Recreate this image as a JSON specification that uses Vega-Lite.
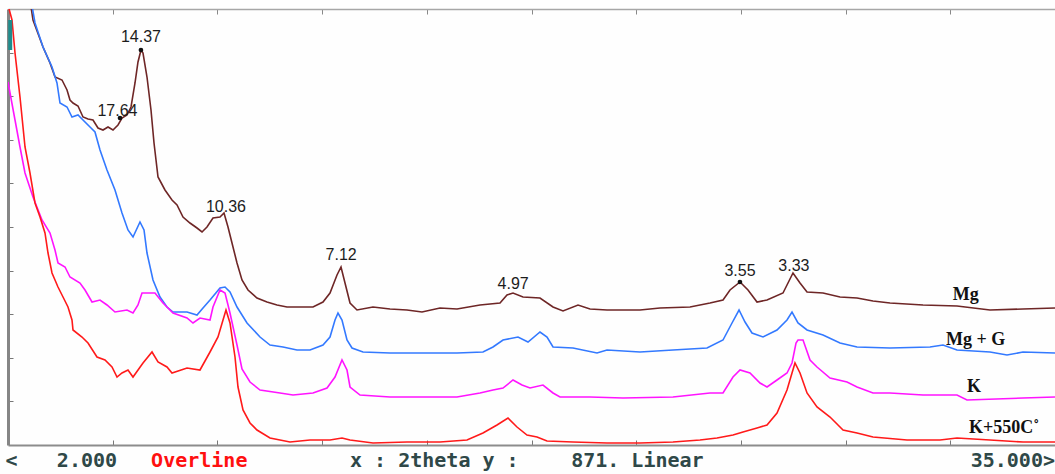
{
  "$schema": "https://vega.github.io/schema/vega-lite/v6.json",
  "width": 1047,
  "height": 436,
  "autosize": {"type": "none"},
  "padding": {"left": 8, "top": 9, "right": 0, "bottom": 29},
  "background": "#fefefe",
  "config": {"view": {"stroke": null}},
  "datasets": {
    "curves": [
      {"s":"Mg","x":2.693,"y":890},{"s":"Mg","x":2.788,"y":850},{"s":"Mg","x":3.103,"y":796},{"s":"Mg","x":3.324,"y":764},{"s":"Mg","x":3.481,"y":736},{"s":"Mg","x":3.702,"y":730},{"s":"Mg","x":3.860,"y":710},{"s":"Mg","x":3.954,"y":690},{"s":"Mg","x":4.049,"y":684},{"s":"Mg","x":4.206,"y":678},{"s":"Mg","x":4.364,"y":656},{"s":"Mg","x":4.522,"y":652},{"s":"Mg","x":4.679,"y":650},{"s":"Mg","x":4.837,"y":634},{"s":"Mg","x":4.994,"y":630},{"s":"Mg","x":5.152,"y":636},{"s":"Mg","x":5.309,"y":630},{"s":"Mg","x":5.467,"y":640},{"s":"Mg","x":5.593,"y":654},{"s":"Mg","x":5.751,"y":660},{"s":"Mg","x":5.877,"y":676},{"s":"Mg","x":6.003,"y":724},{"s":"Mg","x":6.097,"y":766},{"s":"Mg","x":6.192,"y":790},{"s":"Mg","x":6.255,"y":784},{"s":"Mg","x":6.381,"y":736},{"s":"Mg","x":6.507,"y":670},{"s":"Mg","x":6.602,"y":604},{"s":"Mg","x":6.728,"y":536},{"s":"Mg","x":6.948,"y":510},{"s":"Mg","x":7.169,"y":490},{"s":"Mg","x":7.327,"y":480},{"s":"Mg","x":7.516,"y":456},{"s":"Mg","x":7.736,"y":444},{"s":"Mg","x":7.957,"y":434},{"s":"Mg","x":8.115,"y":426},{"s":"Mg","x":8.272,"y":436},{"s":"Mg","x":8.461,"y":454},{"s":"Mg","x":8.682,"y":456},{"s":"Mg","x":8.808,"y":464},{"s":"Mg","x":8.934,"y":436},{"s":"Mg","x":9.060,"y":404},{"s":"Mg","x":9.218,"y":364},{"s":"Mg","x":9.375,"y":330},{"s":"Mg","x":9.565,"y":310},{"s":"Mg","x":9.848,"y":294},{"s":"Mg","x":10.163,"y":286},{"s":"Mg","x":10.479,"y":280},{"s":"Mg","x":10.794,"y":276},{"s":"Mg","x":11.109,"y":276},{"s":"Mg","x":11.613,"y":276},{"s":"Mg","x":11.928,"y":286},{"s":"Mg","x":12.149,"y":304},{"s":"Mg","x":12.370,"y":340},{"s":"Mg","x":12.496,"y":356},{"s":"Mg","x":12.622,"y":324},{"s":"Mg","x":12.780,"y":284},{"s":"Mg","x":13.000,"y":270},{"s":"Mg","x":13.504,"y":276},{"s":"Mg","x":14.040,"y":272},{"s":"Mg","x":14.576,"y":270},{"s":"Mg","x":15.049,"y":266},{"s":"Mg","x":15.616,"y":274},{"s":"Mg","x":16.152,"y":272},{"s":"Mg","x":16.877,"y":280},{"s":"Mg","x":17.507,"y":284},{"s":"Mg","x":17.728,"y":300},{"s":"Mg","x":17.917,"y":304},{"s":"Mg","x":18.232,"y":296},{"s":"Mg","x":18.768,"y":294},{"s":"Mg","x":19.178,"y":276},{"s":"Mg","x":19.493,"y":268},{"s":"Mg","x":19.966,"y":280},{"s":"Mg","x":20.344,"y":272},{"s":"Mg","x":20.880,"y":270},{"s":"Mg","x":21.920,"y":270},{"s":"Mg","x":22.550,"y":274},{"s":"Mg","x":23.496,"y":276},{"s":"Mg","x":24.126,"y":284},{"s":"Mg","x":24.536,"y":290},{"s":"Mg","x":24.757,"y":310},{"s":"Mg","x":25.072,"y":326},{"s":"Mg","x":25.324,"y":310},{"s":"Mg","x":25.608,"y":286},{"s":"Mg","x":25.923,"y":290},{"s":"Mg","x":26.427,"y":304},{"s":"Mg","x":26.742,"y":344},{"s":"Mg","x":26.963,"y":324},{"s":"Mg","x":27.184,"y":306},{"s":"Mg","x":27.688,"y":304},{"s":"Mg","x":28.224,"y":296},{"s":"Mg","x":28.760,"y":294},{"s":"Mg","x":29.264,"y":288},{"s":"Mg","x":29.800,"y":284},{"s":"Mg","x":30.840,"y":280},{"s":"Mg","x":31.911,"y":278},{"s":"Mg","x":32.951,"y":270},{"s":"Mg","x":33.992,"y":272},{"s":"Mg","x":35.000,"y":274},
      {"s":"Mg + G","x":2.725,"y":890},{"s":"Mg + G","x":2.851,"y":844},{"s":"Mg + G","x":3.103,"y":796},{"s":"Mg + G","x":3.387,"y":756},{"s":"Mg + G","x":3.544,"y":724},{"s":"Mg + G","x":3.639,"y":684},{"s":"Mg + G","x":3.860,"y":676},{"s":"Mg + G","x":4.017,"y":656},{"s":"Mg + G","x":4.206,"y":660},{"s":"Mg + G","x":4.364,"y":650},{"s":"Mg + G","x":4.585,"y":636},{"s":"Mg + G","x":4.742,"y":626},{"s":"Mg + G","x":4.900,"y":590},{"s":"Mg + G","x":5.120,"y":550},{"s":"Mg + G","x":5.372,"y":510},{"s":"Mg + G","x":5.593,"y":464},{"s":"Mg + G","x":5.782,"y":430},{"s":"Mg + G","x":5.940,"y":416},{"s":"Mg + G","x":6.160,"y":446},{"s":"Mg + G","x":6.287,"y":430},{"s":"Mg + G","x":6.381,"y":384},{"s":"Mg + G","x":6.570,"y":330},{"s":"Mg + G","x":6.791,"y":296},{"s":"Mg + G","x":7.011,"y":276},{"s":"Mg + G","x":7.201,"y":266},{"s":"Mg + G","x":7.642,"y":266},{"s":"Mg + G","x":7.957,"y":260},{"s":"Mg + G","x":8.146,"y":274},{"s":"Mg + G","x":8.367,"y":290},{"s":"Mg + G","x":8.682,"y":314},{"s":"Mg + G","x":8.840,"y":316},{"s":"Mg + G","x":8.997,"y":306},{"s":"Mg + G","x":9.218,"y":276},{"s":"Mg + G","x":9.533,"y":244},{"s":"Mg + G","x":9.943,"y":216},{"s":"Mg + G","x":10.258,"y":200},{"s":"Mg + G","x":10.668,"y":196},{"s":"Mg + G","x":11.109,"y":190},{"s":"Mg + G","x":11.519,"y":190},{"s":"Mg + G","x":11.928,"y":200},{"s":"Mg + G","x":12.149,"y":216},{"s":"Mg + G","x":12.307,"y":250},{"s":"Mg + G","x":12.401,"y":264},{"s":"Mg + G","x":12.527,"y":250},{"s":"Mg + G","x":12.685,"y":210},{"s":"Mg + G","x":12.843,"y":194},{"s":"Mg + G","x":13.189,"y":186},{"s":"Mg + G","x":14.040,"y":184},{"s":"Mg + G","x":15.080,"y":184},{"s":"Mg + G","x":16.152,"y":184},{"s":"Mg + G","x":16.971,"y":186},{"s":"Mg + G","x":17.287,"y":196},{"s":"Mg + G","x":17.602,"y":210},{"s":"Mg + G","x":18.075,"y":216},{"s":"Mg + G","x":18.390,"y":206},{"s":"Mg + G","x":18.768,"y":226},{"s":"Mg + G","x":18.989,"y":216},{"s":"Mg + G","x":19.178,"y":196},{"s":"Mg + G","x":19.808,"y":194},{"s":"Mg + G","x":20.565,"y":184},{"s":"Mg + G","x":20.880,"y":190},{"s":"Mg + G","x":21.920,"y":186},{"s":"Mg + G","x":22.960,"y":190},{"s":"Mg + G","x":24.032,"y":194},{"s":"Mg + G","x":24.536,"y":210},{"s":"Mg + G","x":24.820,"y":244},{"s":"Mg + G","x":25.041,"y":270},{"s":"Mg + G","x":25.230,"y":246},{"s":"Mg + G","x":25.450,"y":224},{"s":"Mg + G","x":25.797,"y":216},{"s":"Mg + G","x":26.238,"y":230},{"s":"Mg + G","x":26.553,"y":250},{"s":"Mg + G","x":26.711,"y":266},{"s":"Mg + G","x":26.900,"y":244},{"s":"Mg + G","x":27.184,"y":230},{"s":"Mg + G","x":27.688,"y":220},{"s":"Mg + G","x":28.224,"y":204},{"s":"Mg + G","x":28.760,"y":196},{"s":"Mg + G","x":29.800,"y":194},{"s":"Mg + G","x":31.060,"y":196},{"s":"Mg + G","x":31.470,"y":200},{"s":"Mg + G","x":31.911,"y":190},{"s":"Mg + G","x":32.951,"y":186},{"s":"Mg + G","x":33.487,"y":180},{"s":"Mg + G","x":33.992,"y":186},{"s":"Mg + G","x":35.000,"y":184},
      {"s":"K","x":2.000,"y":726},{"s":"K","x":2.221,"y":650},{"s":"K","x":2.378,"y":596},{"s":"K","x":2.536,"y":544},{"s":"K","x":2.788,"y":496},{"s":"K","x":3.072,"y":450},{"s":"K","x":3.324,"y":424},{"s":"K","x":3.481,"y":390},{"s":"K","x":3.576,"y":364},{"s":"K","x":3.797,"y":356},{"s":"K","x":3.954,"y":336},{"s":"K","x":4.269,"y":324},{"s":"K","x":4.427,"y":310},{"s":"K","x":4.648,"y":286},{"s":"K","x":4.900,"y":290},{"s":"K","x":5.120,"y":280},{"s":"K","x":5.372,"y":266},{"s":"K","x":5.751,"y":270},{"s":"K","x":5.940,"y":264},{"s":"K","x":6.097,"y":280},{"s":"K","x":6.224,"y":304},{"s":"K","x":6.633,"y":304},{"s":"K","x":6.885,"y":284},{"s":"K","x":7.201,"y":264},{"s":"K","x":7.642,"y":254},{"s":"K","x":7.831,"y":244},{"s":"K","x":8.051,"y":254},{"s":"K","x":8.367,"y":250},{"s":"K","x":8.461,"y":276},{"s":"K","x":8.682,"y":310},{"s":"K","x":8.840,"y":304},{"s":"K","x":8.997,"y":264},{"s":"K","x":9.218,"y":200},{"s":"K","x":9.375,"y":152},{"s":"K","x":9.628,"y":126},{"s":"K","x":9.943,"y":110},{"s":"K","x":10.573,"y":104},{"s":"K","x":10.983,"y":100},{"s":"K","x":11.613,"y":104},{"s":"K","x":12.055,"y":114},{"s":"K","x":12.307,"y":136},{"s":"K","x":12.527,"y":170},{"s":"K","x":12.685,"y":150},{"s":"K","x":12.780,"y":116},{"s":"K","x":13.095,"y":100},{"s":"K","x":14.040,"y":96},{"s":"K","x":15.080,"y":96},{"s":"K","x":16.152,"y":96},{"s":"K","x":16.877,"y":104},{"s":"K","x":17.287,"y":110},{"s":"K","x":17.602,"y":114},{"s":"K","x":17.917,"y":130},{"s":"K","x":18.201,"y":120},{"s":"K","x":18.453,"y":114},{"s":"K","x":18.862,"y":120},{"s":"K","x":19.178,"y":104},{"s":"K","x":19.398,"y":96},{"s":"K","x":20.344,"y":96},{"s":"K","x":21.384,"y":94},{"s":"K","x":22.960,"y":96},{"s":"K","x":24.126,"y":104},{"s":"K","x":24.536,"y":104},{"s":"K","x":24.851,"y":136},{"s":"K","x":25.072,"y":150},{"s":"K","x":25.387,"y":144},{"s":"K","x":25.702,"y":124},{"s":"K","x":25.923,"y":116},{"s":"K","x":26.238,"y":130},{"s":"K","x":26.553,"y":144},{"s":"K","x":26.711,"y":164},{"s":"K","x":26.837,"y":204},{"s":"K","x":26.900,"y":210},{"s":"K","x":27.058,"y":210},{"s":"K","x":27.279,"y":170},{"s":"K","x":27.499,"y":156},{"s":"K","x":27.909,"y":134},{"s":"K","x":28.445,"y":126},{"s":"K","x":28.760,"y":116},{"s":"K","x":29.264,"y":104},{"s":"K","x":29.800,"y":104},{"s":"K","x":30.840,"y":100},{"s":"K","x":31.911,"y":100},{"s":"K","x":32.226,"y":90},{"s":"K","x":33.992,"y":94},{"s":"K","x":35.000,"y":96},
      {"s":"K+550C","x":2.000,"y":880},{"s":"K+550C","x":2.126,"y":850},{"s":"K+550C","x":2.221,"y":784},{"s":"K+550C","x":2.378,"y":696},{"s":"K+550C","x":2.536,"y":596},{"s":"K+550C","x":2.693,"y":544},{"s":"K+550C","x":2.851,"y":484},{"s":"K+550C","x":3.009,"y":456},{"s":"K+550C","x":3.166,"y":424},{"s":"K+550C","x":3.261,"y":384},{"s":"K+550C","x":3.387,"y":344},{"s":"K+550C","x":3.576,"y":316},{"s":"K+550C","x":3.734,"y":296},{"s":"K+550C","x":3.891,"y":276},{"s":"K+550C","x":4.017,"y":250},{"s":"K+550C","x":4.049,"y":230},{"s":"K+550C","x":4.332,"y":216},{"s":"K+550C","x":4.522,"y":204},{"s":"K+550C","x":4.805,"y":176},{"s":"K+550C","x":5.057,"y":170},{"s":"K+550C","x":5.278,"y":156},{"s":"K+550C","x":5.436,"y":136},{"s":"K+550C","x":5.593,"y":144},{"s":"K+550C","x":5.782,"y":150},{"s":"K+550C","x":5.940,"y":136},{"s":"K+550C","x":6.255,"y":164},{"s":"K+550C","x":6.539,"y":186},{"s":"K+550C","x":6.728,"y":166},{"s":"K+550C","x":7.011,"y":156},{"s":"K+550C","x":7.169,"y":144},{"s":"K+550C","x":7.642,"y":154},{"s":"K+550C","x":8.051,"y":150},{"s":"K+550C","x":8.367,"y":186},{"s":"K+550C","x":8.619,"y":216},{"s":"K+550C","x":8.777,"y":250},{"s":"K+550C","x":8.871,"y":270},{"s":"K+550C","x":8.997,"y":244},{"s":"K+550C","x":9.155,"y":176},{"s":"K+550C","x":9.249,"y":116},{"s":"K+550C","x":9.407,"y":70},{"s":"K+550C","x":9.628,"y":44},{"s":"K+550C","x":9.848,"y":30},{"s":"K+550C","x":10.258,"y":14},{"s":"K+550C","x":10.888,"y":6},{"s":"K+550C","x":11.519,"y":10},{"s":"K+550C","x":12.149,"y":10},{"s":"K+550C","x":12.527,"y":14},{"s":"K+550C","x":12.780,"y":10},{"s":"K+550C","x":13.504,"y":4},{"s":"K+550C","x":14.576,"y":6},{"s":"K+550C","x":15.616,"y":6},{"s":"K+550C","x":16.467,"y":10},{"s":"K+550C","x":16.971,"y":24},{"s":"K+550C","x":17.413,"y":40},{"s":"K+550C","x":17.759,"y":54},{"s":"K+550C","x":18.043,"y":36},{"s":"K+550C","x":18.358,"y":20},{"s":"K+550C","x":18.674,"y":16},{"s":"K+550C","x":18.989,"y":8},{"s":"K+550C","x":19.808,"y":6},{"s":"K+550C","x":20.880,"y":4},{"s":"K+550C","x":21.920,"y":4},{"s":"K+550C","x":22.960,"y":6},{"s":"K+550C","x":23.811,"y":10},{"s":"K+550C","x":24.347,"y":14},{"s":"K+550C","x":24.851,"y":20},{"s":"K+550C","x":25.167,"y":26},{"s":"K+550C","x":25.608,"y":34},{"s":"K+550C","x":25.923,"y":40},{"s":"K+550C","x":26.238,"y":64},{"s":"K+550C","x":26.553,"y":110},{"s":"K+550C","x":26.711,"y":144},{"s":"K+550C","x":26.805,"y":164},{"s":"K+550C","x":26.963,"y":144},{"s":"K+550C","x":27.184,"y":104},{"s":"K+550C","x":27.499,"y":76},{"s":"K+550C","x":27.909,"y":56},{"s":"K+550C","x":28.319,"y":30},{"s":"K+550C","x":28.760,"y":24},{"s":"K+550C","x":29.264,"y":16},{"s":"K+550C","x":30.336,"y":10},{"s":"K+550C","x":31.376,"y":10},{"s":"K+550C","x":31.911,"y":14},{"s":"K+550C","x":32.951,"y":10},{"s":"K+550C","x":33.992,"y":6},{"s":"K+550C","x":35.000,"y":6}
    ],
    "peaks": [
      {"t":"14.37","x":6.19,"y":806},
      {"t":"17.64","x":5.45,"y":658},
      {"t":"10.36","x":8.87,"y":466},
      {"t":"7.12","x":12.50,"y":370},
      {"t":"4.97","x":17.92,"y":312},
      {"t":"3.55","x":25.07,"y":338},
      {"t":"3.33","x":26.77,"y":348}
    ],
    "dots": [
      {"x":6.19,"y":790},
      {"x":5.53,"y":654},
      {"x":25.07,"y":326}
    ],
    "names": [
      {"t":"Mg","x":32.19,"y":290},
      {"t":"Mg + G","x":32.5,"y":200},
      {"t":"K","x":32.45,"y":106},
      {"t":"K+550C˚","x":33.4,"y":24}
    ],
    "statusDark": [
      {"t":"<","x":1.92,"y":-32},
      {"t":"2.000","x":3.54,"y":-32},
      {"t":"x : 2theta y :","x":12.78,"y":-32},
      {"t":"871. Linear","x":19.75,"y":-32}
    ],
    "statusRed": [
      {"t":"Overline","x":6.51,"y":-32}
    ],
    "statusRight": [
      {"t":"35.000>","x":35.0,"y":-32}
    ],
    "marker": [
      {"x":2.07,"y":850,"y2":790}
    ]
  },
  "resolve": {"axis": {"x": "independent"}},
  "layer": [
    {
      "data": {"name": "curves"},
      "mark": {"type": "line", "strokeWidth": 1.6, "clip": true},
      "encoding": {
        "x": {"field": "x", "type": "quantitative",
              "scale": {"domain": [2, 35], "nice": false, "zero": false},
              "axis": {"orient": "bottom", "values": [5.3, 8.6, 11.9, 15.2, 18.5, 21.8, 25.1, 28.4, 31.7],
                       "labels": false, "title": null, "grid": false, "tickSize": -5, "tickColor": "#777777",
                       "domainColor": "#8c8c8c", "domainWidth": 2}},
        "y": {"field": "y", "type": "quantitative",
              "scale": {"domain": [0, 872], "nice": false, "zero": false},
              "axis": {"orient": "left", "values": [87.2, 174.4, 261.6, 348.8, 436, 523.2, 610.4, 697.6, 784.8],
                       "labels": false, "title": null, "grid": false, "tickSize": -5, "tickColor": "#777777",
                       "domainColor": "#858585", "domainWidth": 3}},
        "color": {"field": "s", "type": "nominal",
                  "scale": {"domain": ["Mg", "Mg + G", "K", "K+550C"], "range": ["#6e2626", "#3379ff", "#ff14ff", "#ff1a1a"]},
                  "legend": null},
        "detail": {"field": "s"}
      }
    },
    {
      "data": {"name": "peaks"},
      "mark": {"type": "text", "font": "Liberation Sans", "fontSize": 16, "color": "#1c1c1c", "align": "center", "baseline": "alphabetic"},
      "encoding": {
        "x": {"field": "x", "type": "quantitative",
              "axis": {"orient": "top", "values": [5.3, 8.6, 11.9, 15.2, 18.5, 21.8, 25.1, 28.4, 31.7],
                       "labels": false, "title": null, "grid": false, "tickSize": -5, "tickColor": "#888888",
                       "domainColor": "#a6a6a6", "domainWidth": 1.5}},
        "y": {"field": "y", "type": "quantitative"},
        "text": {"field": "t"}
      }
    },
    {
      "data": {"name": "dots"},
      "mark": {"type": "point", "filled": true, "size": 22, "color": "#111111", "opacity": 1},
      "encoding": {
        "x": {"field": "x", "type": "quantitative", "axis": null},
        "y": {"field": "y", "type": "quantitative"}
      }
    },
    {
      "data": {"name": "names"},
      "mark": {"type": "text", "font": "Liberation Serif", "fontWeight": "bold", "fontSize": 18, "color": "#111111", "align": "center", "baseline": "alphabetic"},
      "encoding": {
        "x": {"field": "x", "type": "quantitative", "axis": null},
        "y": {"field": "y", "type": "quantitative"},
        "text": {"field": "t"}
      }
    },
    {
      "data": {"name": "marker"},
      "mark": {"type": "rule", "strokeWidth": 4, "color": "#1e8c8c"},
      "encoding": {
        "x": {"field": "x", "type": "quantitative", "axis": null},
        "y": {"field": "y", "type": "quantitative"},
        "y2": {"field": "y2"}
      }
    },
    {
      "data": {"name": "statusDark"},
      "mark": {"type": "text", "font": "DejaVu Sans Mono", "fontWeight": "bold", "fontSize": 20, "align": "left", "baseline": "middle", "clip": false, "color": "#2f4848"},
      "encoding": {
        "x": {"field": "x", "type": "quantitative", "axis": null},
        "y": {"field": "y", "type": "quantitative"},
        "text": {"field": "t"}
      }
    },
    {
      "data": {"name": "statusRed"},
      "mark": {"type": "text", "font": "DejaVu Sans Mono", "fontWeight": "bold", "fontSize": 20, "align": "left", "baseline": "middle", "clip": false, "color": "#ff1010"},
      "encoding": {
        "x": {"field": "x", "type": "quantitative", "axis": null},
        "y": {"field": "y", "type": "quantitative"},
        "text": {"field": "t"}
      }
    },
    {
      "data": {"name": "statusRight"},
      "mark": {"type": "text", "font": "DejaVu Sans Mono", "fontWeight": "bold", "fontSize": 20, "align": "right", "baseline": "middle", "clip": false, "color": "#2f4848"},
      "encoding": {
        "x": {"field": "x", "type": "quantitative", "axis": null},
        "y": {"field": "y", "type": "quantitative"},
        "text": {"field": "t"}
      }
    }
  ]
}
